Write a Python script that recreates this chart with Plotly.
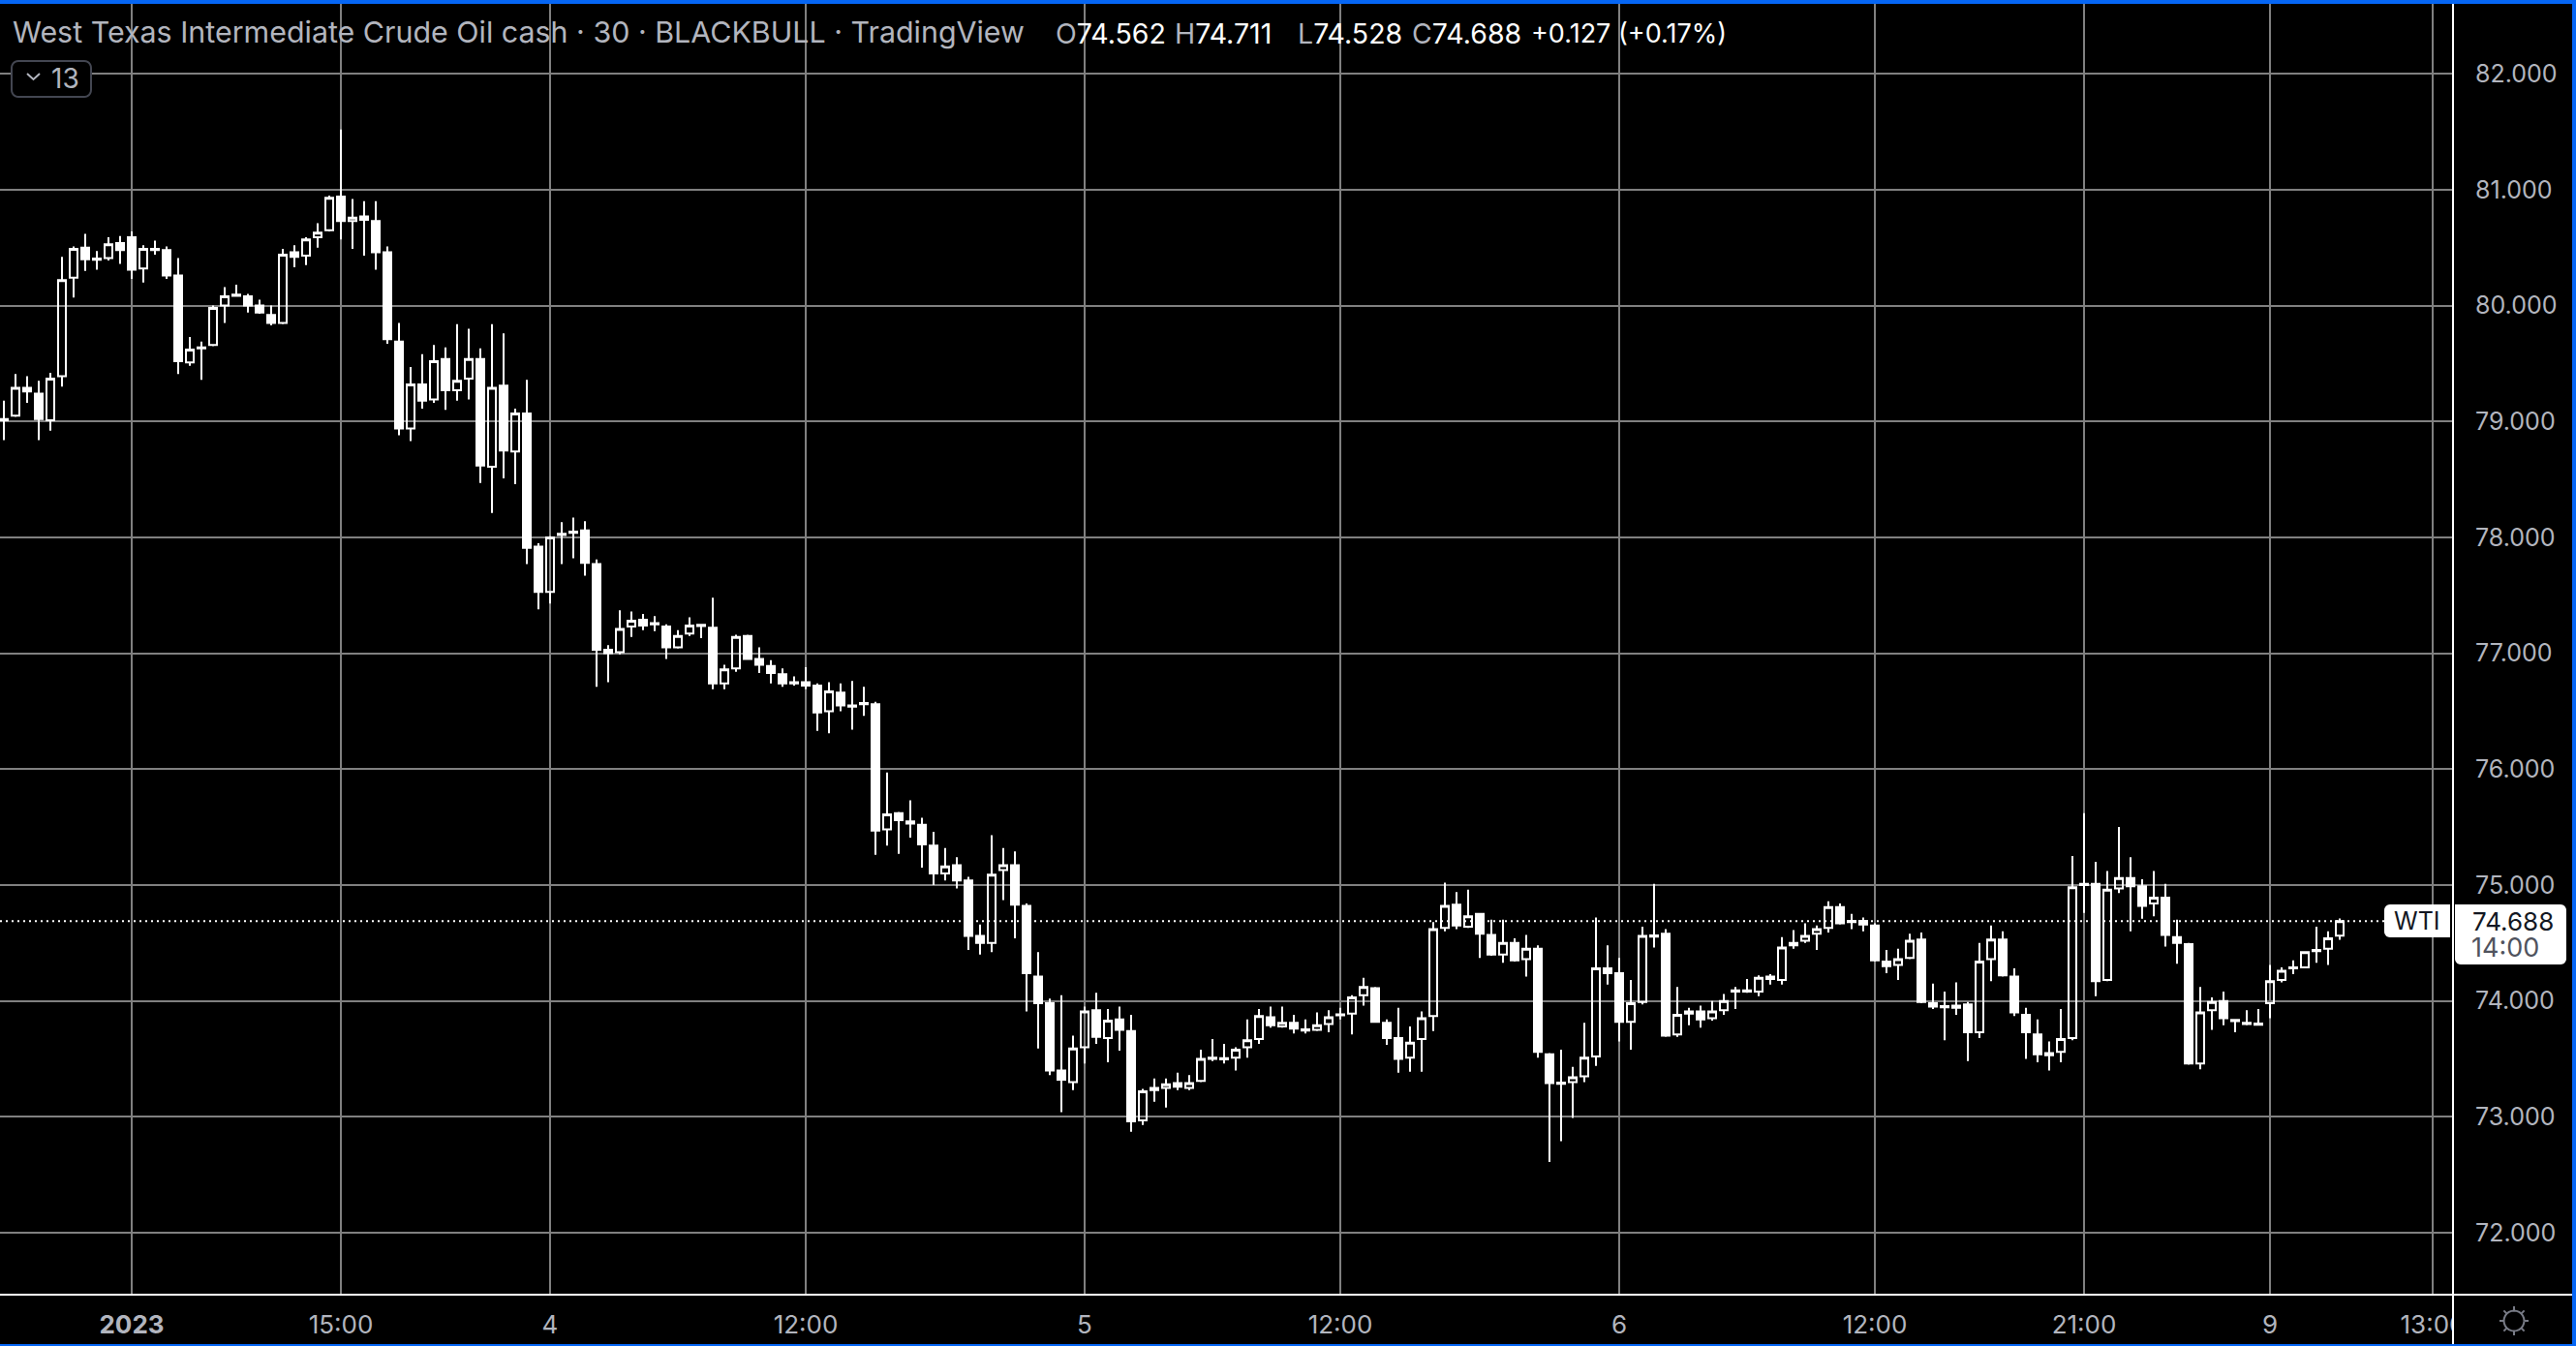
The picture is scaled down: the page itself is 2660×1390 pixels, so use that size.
import math
import plotly.graph_objects as go

open_ = [
79.01,79.05,79.29,79.24,79.01,79.39,80.24,80.50,80.405,80.41,
80.54,80.59,80.32,80.49,80.48,80.26,79.51,79.64,79.66,80.00,
80.095,80.08,80.00,79.92,79.85,80.46,80.43,80.59,80.65,80.94,
80.73,80.77,80.73,80.46,79.69,78.94,79.32,79.19,79.54,79.27,
79.37,79.54,78.61,79.31,78.74,79.07,77.92,77.53,78.03,78.04,
78.06,77.77,77.03,77.01,77.23,77.29,77.25,77.23,77.05,77.17,
77.245,77.22,76.74,76.87,77.15,76.95,76.89,76.82,76.75,76.75,
76.72,76.50,76.66,76.55,76.57,76.56,75.48,75.62,75.55,75.52,
75.34,75.10,75.17,75.04,74.56,74.50,75.13,75.17,74.82,74.21,
73.98,73.40,73.30,73.60,73.92,73.68,73.84,73.74,72.97,73.25,
73.25,73.29,73.25,73.31,73.51,73.505,73.51,73.60,73.67,73.86,
73.78,73.81,73.755,73.75,73.80,73.885,73.89,74.05,74.11,73.81,
73.68,73.51,73.67,73.87,74.63,74.83,74.64,74.75,74.57,74.40,
74.50,74.36,74.45,73.54,73.295,73.30,73.35,73.52,74.28,74.24,
73.82,73.99,74.565,74.58,73.71,73.91,73.91,73.85,73.92,74.09,
74.09,74.08,74.21,74.18,74.48,74.52,74.58,74.63,74.81,74.69,
74.69,74.65,74.34,74.31,74.37,74.53,73.98,73.955,73.96,73.97,
73.73,74.36,74.53,74.21,73.88,73.71,73.55,73.56,73.68,75.01,
75.01,74.18,74.97,75.06,74.99,74.84,74.89,74.55,74.49,73.46,
73.92,74.00,73.835,73.81,73.805,73.98,74.18,74.29,74.29,74.44,
74.45,74.562]

close = [
79.02,79.29,79.26,79.02,79.37,80.22,80.49,80.40,80.395,80.53,
80.48,80.31,80.49,80.48,80.26,79.52,79.62,79.63,79.98,80.08,
80.085,80.00,79.94,79.85,80.44,80.42,80.57,80.63,80.93,80.73,
80.76,80.74,80.46,79.71,78.94,79.32,79.18,79.52,79.27,79.35,
79.54,78.62,79.29,78.75,79.07,77.91,77.53,78.00,78.02,78.05,
77.78,77.03,77.00,77.21,77.28,77.24,77.26,77.05,77.15,77.24,
77.235,76.74,76.86,77.14,76.95,76.90,76.83,76.74,76.74,76.72,
76.49,76.67,76.55,76.54,76.56,75.47,75.61,75.56,75.53,75.35,
75.10,75.16,75.04,74.56,74.50,75.09,75.17,74.83,74.24,73.98,
73.40,73.32,73.59,73.91,73.69,73.83,73.75,72.96,73.22,73.23,
73.28,73.26,73.29,73.50,73.50,73.495,73.58,73.66,73.87,73.79,
73.81,73.76,73.745,73.79,73.86,73.875,74.03,74.12,73.82,73.68,
73.50,73.64,73.85,74.62,74.82,74.65,74.73,74.58,74.40,74.50,
74.35,74.45,73.56,73.29,73.285,73.34,73.51,74.28,74.24,73.82,
73.98,74.56,74.555,73.70,73.88,73.89,73.84,73.91,74.00,74.08,
74.08,74.20,74.19,74.46,74.50,74.56,74.62,74.81,74.67,74.68,
74.66,74.35,74.30,74.36,74.52,73.99,73.95,73.945,73.94,73.73,
74.34,74.53,74.22,73.90,73.73,73.54,73.53,73.67,74.98,75.00,
74.17,74.96,75.06,74.99,74.82,74.89,74.57,74.50,73.46,73.90,
73.99,73.85,73.825,73.80,73.795,74.17,74.26,74.28,74.42,74.43,
74.54,74.688]

high = [
79.18,79.41,79.39,79.35,79.42,80.42,80.51,80.62,80.47,80.59,
80.60,80.64,80.52,80.56,80.51,80.41,79.73,79.69,80.00,80.16,
80.18,80.10,80.05,80.00,80.49,80.52,80.59,80.71,80.95,81.52,
80.92,80.90,80.90,80.51,79.85,79.47,79.58,79.66,79.64,79.84,
79.80,79.63,79.84,79.76,79.11,79.36,77.95,78.01,78.13,78.17,
78.14,77.81,77.07,77.37,77.36,77.34,77.32,77.25,77.20,77.31,
77.25,77.48,76.90,77.16,77.16,77.05,76.94,76.87,76.80,76.88,
76.74,76.75,76.74,76.76,76.71,76.58,75.97,75.63,75.73,75.58,
75.46,75.32,75.24,75.07,74.66,75.43,75.32,75.29,74.84,74.42,
74.02,74.05,73.70,73.95,74.07,73.93,73.95,73.88,73.24,73.33,
73.33,73.38,73.36,73.58,73.67,73.63,73.60,73.84,73.93,73.95,
73.95,73.88,73.84,73.90,73.92,73.94,74.05,74.20,74.12,73.84,
73.94,73.78,73.91,74.68,75.02,74.94,74.96,74.76,74.70,74.70,
74.54,74.57,74.48,73.55,73.58,73.43,73.81,74.72,74.48,74.37,
74.18,74.64,75.01,74.62,74.12,73.94,73.96,74.00,74.06,74.12,
74.19,74.22,74.23,74.55,74.61,74.67,74.65,74.86,74.84,74.75,
74.72,74.67,74.44,74.45,74.58,74.59,74.15,74.08,74.16,73.99,
74.50,74.65,74.60,74.28,73.94,73.84,73.65,73.93,75.25,75.62,
75.20,75.12,75.50,75.24,75.05,75.12,75.01,74.70,74.50,74.12,
74.03,74.08,73.84,73.92,73.93,74.31,74.29,74.35,74.43,74.64,
74.60,74.711]

low = [
78.84,79.04,79.16,78.84,78.92,79.30,80.07,80.30,80.31,80.39,
80.36,80.23,80.20,80.44,80.23,79.41,79.48,79.36,79.65,79.85,
80.08,79.94,79.93,79.83,79.84,80.33,80.35,80.50,80.64,80.57,
80.49,80.43,80.31,79.67,78.88,78.83,79.11,79.16,79.10,79.18,
79.19,78.47,78.21,78.51,78.46,77.77,77.38,77.43,77.77,77.82,
77.67,76.71,76.75,76.99,77.14,77.20,77.19,76.95,77.04,77.15,
77.13,76.69,76.69,76.84,76.95,76.83,76.74,76.71,76.72,76.69,
76.33,76.31,76.50,76.34,76.46,75.26,75.34,75.27,75.41,75.15,
75.00,75.04,74.97,74.44,74.40,74.42,74.87,74.54,73.91,73.59,
73.36,73.04,73.23,73.46,73.63,73.47,73.57,72.87,72.93,73.13,
73.08,73.23,73.23,73.30,73.48,73.46,73.40,73.51,73.63,73.77,
73.77,73.72,73.72,73.74,73.73,73.84,73.71,73.96,73.81,73.62,
73.38,73.39,73.39,73.74,74.60,74.62,74.63,74.37,74.39,74.33,
74.34,74.21,73.51,72.61,72.79,72.99,73.30,73.44,74.14,73.65,
73.58,73.97,74.46,73.69,73.69,73.79,73.77,73.83,73.88,73.93,
74.07,74.04,74.14,74.14,74.45,74.50,74.44,74.59,74.66,74.62,
74.60,74.34,74.24,74.18,74.36,73.98,73.93,73.66,73.88,73.48,
73.68,74.17,74.21,73.87,73.50,73.47,73.40,73.47,73.66,74.76,
74.04,74.17,74.93,74.60,74.71,74.73,74.47,74.32,73.45,73.41,
73.75,73.79,73.73,73.79,73.79,73.85,74.16,74.23,74.28,74.33,
74.31,74.528]

bars = list(range(len(close)))
time_ticks = [11, 29, 47, 69, 93, 115, 139, 161, 179, 195, 209]
time_labels = ["<b>2023</b>", "15:00", "4", "12:00", "5", "12:00", "6", "12:00", "21:00", "9", "13:00"]
price_ticks = [72, 73, 74, 75, 76, 77, 78, 79, 80, 81, 82]
price_labels = ["72.000", "73.000", "74.000", "75.000", "76.000", "77.000", "78.000", "79.000", "80.000", "81.000", "82.000"]
last_price = 74.688

W, H = 2660, 1390
AX_R, AX_B = 2533, 1337
BLUE = "#0566f5"
GREY = "#b2b5be"
GRID = "#808080"
FONT = "Inter"

def X(p): return p / W
def Y(p): return 1 - p / H

def rrect(x0, y0, x1, y1, r=(6, 6, 6, 6)):
    tl, tr, br, bl = r
    pts = []
    def arc(cx, cy, rad, a0):
        if rad == 0:
            pts.append((cx, cy)); return
        for k in range(7):
            a = math.radians(a0 + 15 * k)
            pts.append((cx + rad * math.cos(a), cy + rad * math.sin(a)))
    arc(x0 + tl, y0 + tl, tl, 180)
    arc(x1 - tr, y0 + tr, tr, 270)
    arc(x1 - br, y1 - br, br, 0)
    arc(x0 + bl, y1 - bl, bl, 90)
    return "M " + " L ".join(f"{X(a):.6f},{Y(b):.6f}" for a, b in pts) + " Z"

def rect(x0, y0, x1, y1, color, layer="above"):
    return dict(type="rect", xref="paper", yref="paper", x0=X(x0), x1=X(x1), y0=Y(y0), y1=Y(y1),
                fillcolor=color, line=dict(width=0), layer=layer)

def path(d, fill="rgba(0,0,0,0)", color="rgba(0,0,0,0)", width=0, layer="above"):
    return dict(type="path", xref="paper", yref="paper", path=d, fillcolor=fill,
                line=dict(color=color, width=width), layer=layer)

def poly(pts):
    return "M " + " L ".join(f"{X(a):.6f},{Y(b):.6f}" for a, b in pts)

def label(x, y, text, size, color, anchor="left", weight=None):
    return dict(xref="paper", yref="paper", x=X(x), y=Y(y), text=text, showarrow=False,
                xanchor=anchor, yanchor="middle", borderpad=0, borderwidth=0,
                font=dict(family=FONT, size=size, color=color))

shapes = [
    dict(type="line", xref="paper", yref="y", x0=0, x1=X(2462), y0=last_price, y1=last_price,
         line=dict(color="#ffffff", width=2, dash="2px,4px"), layer="below"),
    rect(AX_R, AX_B, 2656, 1388, "#000000"),
    rect(0, AX_B - 1, 2656, AX_B + 1, "#ffffff"),
    rect(AX_R - 1, 4, AX_R + 1, 1388, "#ffffff"),
    path(rrect(12, 63, 94, 100, (7, 7, 7, 7)), fill="#000000", color="#434651", width=2),
    path(poly([(28, 76), (34.5, 82), (41, 76)]), color=GREY, width=2),
    path(rrect(2462, 934, 2530, 968, (6, 0, 0, 6)), fill="#ffffff"),
    path(rrect(2535, 934, 2650, 996, (0, 6, 6, 6)), fill="#ffffff"),
    rect(0, 0, W, 4, BLUE),
    rect(2656, 0, W, H, BLUE),
    rect(0, 1388, W, H, BLUE),
]

sun_c = (2596, 1364)
circle = [(sun_c[0] + 10.5 * math.cos(math.radians(a)), sun_c[1] + 10.5 * math.sin(math.radians(a)))
          for a in range(0, 361, 15)]
shapes.append(path(poly(circle), color="#787b86", width=2))
for a in range(0, 360, 45):
    c, s = math.cos(math.radians(a)), math.sin(math.radians(a))
    shapes.append(path(poly([(sun_c[0] + 11 * c, sun_c[1] + 11 * s), (sun_c[0] + 15 * c, sun_c[1] + 15 * s)]),
                       color="#787b86", width=2))

annotations = [
    label(13, 33, "West Texas Intermediate Crude Oil cash · 30 · BLACKBULL · TradingView", 30.4, GREY),
    label(1090, 34, f'<span style="color:{GREY}">O</span>74.562', 28.5, "#ffffff"),
    label(1213, 34, f'<span style="color:{GREY}">H</span>74.711', 28.5, "#ffffff"),
    label(1340, 34, f'<span style="color:{GREY}">L</span>74.528', 28.5, "#ffffff"),
    label(1458, 34, f'<span style="color:{GREY}">C</span>74.688', 28.5, "#ffffff"),
    label(1581, 34, "+0.127 (+0.17%)", 27, "#ffffff"),
    label(53, 81, "13", 28, GREY),
    label(2496, 951, "WTI", 25, "#131722", anchor="center"),
    label(2595, 951, "74.688", 26, "#131722", anchor="center"),
    label(2552, 978, "14:00", 27, "#50535e"),
]

fig = go.Figure(go.Candlestick(
    x=bars, open=open_, high=high, low=low, close=close,
    increasing=dict(line=dict(color="#ffffff", width=2), fillcolor="rgba(0,0,0,0)"),
    decreasing=dict(line=dict(color="#ffffff", width=2), fillcolor="#ffffff"),
    whiskerwidth=0, showlegend=False,
))

fig.update_layout(
    width=W, height=H, autosize=False,
    margin=dict(l=0, r=0, t=0, b=0),
    paper_bgcolor="#000000", plot_bgcolor="#000000",
    showlegend=False, boxgap=0.2, boxgroupgap=0.167,
    shapes=shapes, annotations=annotations,
    font=dict(family=FONT),
    xaxis=dict(
        domain=[0, AX_R / W], range=[-1 / 3, 210.75], rangeslider=dict(visible=False),
        tickmode="array", tickvals=time_ticks, ticktext=time_labels, tickangle=0,
        showgrid=True, gridcolor=GRID, gridwidth=2, zeroline=False, showline=False,
        ticks="outside", ticklen=8, tickcolor="#000000", tickwidth=1,
        tickfont=dict(family=FONT, size=26, color=GREY), automargin=False,
    ),
    yaxis=dict(
        domain=[(H - AX_B) / H, 1], range=[71.465, 82.637], side="right",
        tickmode="array", tickvals=price_ticks, ticktext=price_labels,
        showgrid=True, gridcolor=GRID, gridwidth=2, zeroline=False, showline=False,
        ticks="outside", ticklen=17, tickcolor="#000000", tickwidth=1,
        tickfont=dict(family=FONT, size=25, color=GREY), automargin=False,
    ),
)

fig.write_html("out.html", config=dict(displayModeBar=False),
               post_script="document.body.style.margin='0';document.body.style.background='#000';")
